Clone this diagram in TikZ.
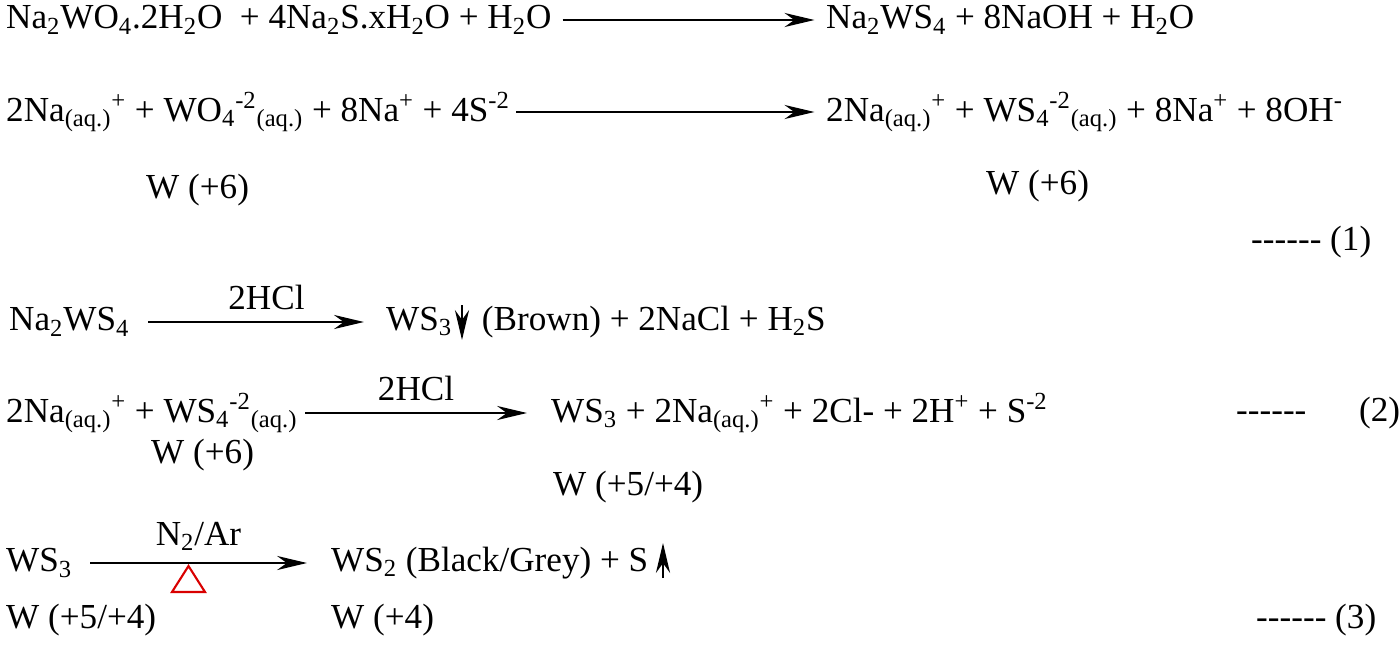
\documentclass[tikz,border=0pt]{standalone}
\usepackage{fontspec}
\setmainfont{Liberation Serif}
\usetikzlibrary{arrows.meta}
\newcommand{\lo}[1]{\textsubscript{#1}}
\newcommand{\hi}[1]{\textsuperscript{#1}}
\newcommand{\aq}{\lo{(aq.)}}
\newcommand{\dashes}{-{}-{}-{}-{}-{}-}
\begin{document}
\begin{tikzpicture}[x=0.02cm, y=-0.02cm, font=\fontsize{20}{22}\selectfont,
  eq/.style={anchor=west, inner sep=0pt},
  >={Stealth[length=17pt, width=8pt]}, every path/.style={line width=1.4pt}]
\useasboundingbox (0,0) rectangle (1400,646);
% 式(1)
\node[eq] (r1l) at (5,20)   {Na\lo{2}WO\lo{4}.2H\lo{2}O \ + 4Na\lo{2}S.xH\lo{2}O + H\lo{2}O};
\node[eq] (r1r) at (825,20) {Na\lo{2}WS\lo{4} + 8NaOH + H\lo{2}O};
\node[eq] (r2l) at (5,112)  {2Na\aq{}\hi{+} + WO\lo{4}\hi{-2}\aq{} + 8Na\hi{+} + 4S\hi{-2}};
\node[eq] (r2r) at (825,112){2Na\aq{}\hi{+} + WS\lo{4}\hi{-2}\aq{} + 8Na\hi{+} + 8OH\hi{-}};
\node[eq] (ox1) at (145,190) {W (+6)};
\node[eq] (ox2) at (985,186) {W (+6)};
\node[eq] (n1)  at (1250,242) {\dashes{} (1)};
\draw[->, shorten >=6pt] (r1l.east) ++(10,0) coordinate (a1) -- (a1 -| r1r.west);
\draw[->, shorten >=6pt] (r2l.east) ++(5,0) coordinate (a2) -- (a2 -| r2r.west);
% 式(2)
\node[eq] (r3l) at (8,322)   {Na\lo{2}WS\lo{4}};
\node[eq] (r3r) at (385,322) {WS\lo{3}\hspace{17pt}(Brown) + 2NaCl + H\lo{2}S};
\draw[->, shorten >=12pt] (148,322) -- node[above=3pt] (hcl1) {2HCl} (r3r.west);
\draw[->] (462,305) -- (462,340);
\node[eq] (r4l) at (5,413)   {2Na\aq{}\hi{+} + WS\lo{4}\hi{-2}\aq{}};
\node[eq] (r4r) at (550,413) {WS\lo{3} + 2Na\aq{}\hi{+} + 2Cl- + 2H\hi{+} + S\hi{-2}};
\draw[->] (305,413) -- node[above=3pt] (hcl2) {2HCl} (527,413);
\node[eq] (ox3) at (150,455) {W (+6)};
\node[eq] (ox4) at (552,487) {W (+5/+4)};
\node[eq] (n2)  at (1235,413) {\dashes\hspace{30pt}(2)};
% 式(3)
\node[eq] (r5l) at (5,563)   {WS\lo{3}};
\node[eq] (r5r) at (330,563) {WS\lo{2} (Black/Grey) + S};
\draw[->] (90,563) -- node[above=3pt] (gas) {N\lo{2}/Ar} (307,563);
\draw[red!85!black, line width=1.2pt] (172,592) -- (205,592) -- (188.5,566) -- cycle;
\draw[->] (663,578) -- (663,543);
\node[eq] (ox5) at (5,620)   {W (+5/+4)};
\node[eq] (ox6) at (330,620) {W (+4)};
\node[eq] (n3)  at (1255,620) {\dashes{} (3)};
\end{tikzpicture}
\end{document}
